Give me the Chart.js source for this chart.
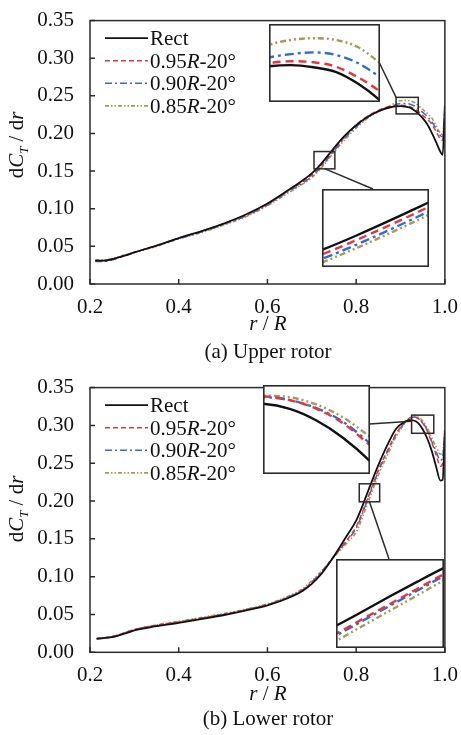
<!DOCTYPE html>
<html>
<head>
<meta charset="utf-8">
<script src="https://cdn.jsdelivr.net/npm/chart.js@4.4.0/dist/chart.umd.min.js"></script>
<style>
html, body { margin: 0; padding: 0; background: #fff; }
#wrap { position: relative; width: 461px; height: 735px; overflow: hidden; background: #fff; }
canvas { position: absolute; }
.inset { background: #fff; }
</style>
</head>
<body>
<div id="wrap">
  <canvas id="upperChart" width="461" height="367" style="left:0;top:0"></canvas>
  <canvas id="lowerChart" width="461" height="368" style="left:0;top:367px"></canvas>
  <canvas id="upperInset1" class="inset" width="111" height="78" style="left:269px;top:24px"></canvas>
  <canvas id="upperInset2" class="inset" width="107" height="78" style="left:322px;top:189px"></canvas>
  <canvas id="lowerInset1" class="inset" width="107" height="89" style="left:263px;top:385px"></canvas>
  <canvas id="lowerInset2" class="inset" width="108" height="89" style="left:336px;top:559px"></canvas>
</div>
<script>
// Data
const seriesNames = ['Rect', '0.95R-20°', '0.90R-20°', '0.85R-20°'];
const xTicks = [0.2, 0.4, 0.6, 0.8, 1.0];
const yTicks = [0, 0.05, 0.10, 0.15, 0.20, 0.25, 0.30, 0.35];

// (a) Upper rotor
const upperR = [0.212, 0.23, 0.25, 0.28, 0.30, 0.35, 0.40, 0.45, 0.50, 0.55, 0.60, 0.65, 0.68, 0.70, 0.71, 0.72, 0.73, 0.74, 0.75, 0.77, 0.80, 0.83, 0.86, 0.88, 0.89, 0.90, 0.91, 0.92, 0.93, 0.94, 0.95, 0.96, 0.97, 0.98, 0.99, 0.995, 1.0];
const upperRect = [0.031, 0.031, 0.033, 0.038, 0.042, 0.051, 0.061, 0.070, 0.080, 0.092, 0.107, 0.126, 0.138, 0.147, 0.1525, 0.159, 0.166, 0.1733, 0.1806, 0.1945, 0.211, 0.2235, 0.232, 0.2352, 0.2361, 0.2364, 0.2358, 0.2345, 0.2312, 0.2265, 0.2205, 0.2125, 0.2015, 0.189, 0.1755, 0.1715, 0.237];
const upper95 = [0.031, 0.031, 0.033, 0.038, 0.042, 0.051, 0.061, 0.070, 0.080, 0.091, 0.106, 0.125, 0.136, 0.145, 0.1505, 0.157, 0.164, 0.1713, 0.1786, 0.193, 0.2115, 0.2245, 0.233, 0.2362, 0.237, 0.2375, 0.2372, 0.236, 0.233, 0.229, 0.224, 0.219, 0.213, 0.203, 0.1925, 0.191, 0.220];
const upper90 = [0.030, 0.030, 0.032, 0.038, 0.042, 0.051, 0.060, 0.069, 0.079, 0.090, 0.105, 0.124, 0.134, 0.143, 0.1485, 0.155, 0.162, 0.1693, 0.1766, 0.191, 0.209, 0.223, 0.2315, 0.236, 0.2385, 0.2395, 0.240, 0.2393, 0.237, 0.233, 0.228, 0.223, 0.216, 0.207, 0.197, 0.196, 0.226];
const upper85 = [0.032, 0.032, 0.034, 0.039, 0.042, 0.050, 0.060, 0.068, 0.078, 0.089, 0.104, 0.122, 0.133, 0.1415, 0.147, 0.1535, 0.1605, 0.1678, 0.175, 0.189, 0.207, 0.222, 0.232, 0.238, 0.242, 0.2435, 0.244, 0.2435, 0.2415, 0.237, 0.232, 0.227, 0.221, 0.211, 0.200, 0.199, 0.232];

// (b) Lower rotor
const lowerR = [0.215, 0.25, 0.28, 0.30, 0.35, 0.40, 0.45, 0.50, 0.55, 0.60, 0.65, 0.68, 0.70, 0.72, 0.75, 0.78, 0.80, 0.81, 0.82, 0.83, 0.84, 0.85, 0.87, 0.89, 0.91, 0.92, 0.93, 0.94, 0.95, 0.96, 0.97, 0.98, 0.99, 0.995, 1.0];
const lowerRect = [0.018, 0.020, 0.025, 0.029, 0.0345, 0.039, 0.044, 0.049, 0.055, 0.062, 0.0725, 0.0815, 0.0905, 0.1025, 0.127, 0.155, 0.174, 0.1875, 0.2025, 0.218, 0.233, 0.2475, 0.2735, 0.2955, 0.305, 0.307, 0.3065, 0.303, 0.295, 0.283, 0.267, 0.246, 0.227, 0.228, 0.294];
const lower95 = [0.018, 0.021, 0.026, 0.030, 0.036, 0.040, 0.045, 0.050, 0.056, 0.063, 0.0735, 0.0825, 0.092, 0.104, 0.127, 0.149, 0.166, 0.1792, 0.1947, 0.2101, 0.2256, 0.241, 0.266, 0.289, 0.3045, 0.3095, 0.3115, 0.309, 0.303, 0.293, 0.278, 0.262, 0.246, 0.250, 0.285];
const lower90 = [0.018, 0.020, 0.026, 0.030, 0.035, 0.040, 0.045, 0.050, 0.056, 0.063, 0.074, 0.083, 0.093, 0.105, 0.127, 0.148, 0.164, 0.1773, 0.1928, 0.2083, 0.2237, 0.2392, 0.2645, 0.288, 0.304, 0.309, 0.311, 0.309, 0.3035, 0.294, 0.2795, 0.266, 0.254, 0.258, 0.288];
const lower85 = [0.018, 0.021, 0.026, 0.030, 0.036, 0.041, 0.046, 0.051, 0.057, 0.064, 0.075, 0.0845, 0.0945, 0.106, 0.126, 0.145, 0.159, 0.1718, 0.1875, 0.2032, 0.2188, 0.2345, 0.260, 0.285, 0.303, 0.309, 0.312, 0.311, 0.306, 0.297, 0.284, 0.272, 0.262, 0.265, 0.292];

// zoom windows [xmin, xmax, ymin, ymax]
const upperMarks = [[0.89, 0.94, 0.226, 0.248], [0.705, 0.752, 0.153, 0.176]];
const upperInsetRanges = [[0.89, 0.94, 0.226, 0.248], [0.71, 0.74, 0.145, 0.1791]];
const lowerMarks = [[0.925, 0.975, 0.2896, 0.3136], [0.807, 0.853, 0.199, 0.2228]];
const lowerInsetRanges = [[0.93, 0.97, 0.2582, 0.3194], [0.81, 0.85, 0.1644, 0.2567]];

// Styles
const SERIF = "'Liberation Serif', 'Times New Roman', serif";
const FS = 21;
const seriesColors = ['#111111', '#e8343c', '#2f6fc8', '#a8985a'];
const mainWidths = [1.8, 1.5, 1.5, 1.6];
const mainDash = [[], [5, 3], [7, 3, 2, 3], [4, 2, 1.5, 2, 1.5, 2]];
const insetWidths = [2.4, 2.4, 2.4, 2.4];
const insetDash = [[], [8, 5], [9, 4, 3, 4], [6, 3, 2, 3, 2, 3]];

function fontFor(p, size) {
    return (p.i ? 'italic ' : '') + (p.sub ? Math.round(size * 0.62) : size) + 'px ' + SERIF;
}

// draw text made of normal / italic / subscript pieces
function drawRich(c, parts, x, y, size, align) {
    let w = 0;
    parts.forEach(p => { c.font = fontFor(p, size); w += c.measureText(p.t).width; });
    let cx = align === 'center' ? x - w / 2 : x;
    c.textAlign = 'left';
    c.textBaseline = 'alphabetic';
    parts.forEach(p => {
        c.font = fontFor(p, size);
        c.fillText(p.t, cx, y + (p.sub ? size * 0.25 : 0));
        cx += c.measureText(p.t).width;
    });
}

function nameParts(name) {
    const m = name.match(/^([\d.]+)R(.*)$/);
    if (!m) return [{ t: name }];
    return [{ t: m[1] }, { t: 'R', i: true }, { t: m[2] }];
}

function makeDeco(d) {
    return {
        id: 'deco',
        afterDraw(chart) {
            const c = chart.ctx, a = chart.chartArea;
            const xs = chart.scales.x, ys = chart.scales.y;
            c.save();
            c.strokeStyle = '#2b2b2b';
            c.lineWidth = 1.5;
            c.strokeRect(a.left, a.top, a.right - a.left, a.bottom - a.top);

            // inward tick marks
            c.beginPath();
            yTicks.forEach(v => { const py = ys.getPixelForValue(v); c.moveTo(a.left, py); c.lineTo(a.left + 5, py); });
            xTicks.forEach(v => { const px = xs.getPixelForValue(v); c.moveTo(px, a.bottom); c.lineTo(px, a.bottom - 5); });
            c.stroke();

            // zoom boxes and connector lines
            d.marks.forEach((m, i) => {
                const x0 = xs.getPixelForValue(m[0]), x1 = xs.getPixelForValue(m[1]);
                const y0 = ys.getPixelForValue(m[2]), y1 = ys.getPixelForValue(m[3]);
                c.strokeRect(x0, y1, x1 - x0, y0 - y1);
                const L = d.links[i];
                c.beginPath();
                c.moveTo(L.px, L.py - d.panelTop);
                c.lineTo(xs.getPixelForValue(L.x), ys.getPixelForValue(L.y));
                c.stroke();
            });

            // legend
            chart.data.datasets.forEach((ds, i) => {
                const ly = a.top + 17.5 + i * 22.6;
                c.strokeStyle = ds.borderColor;
                c.lineWidth = ds.borderWidth;
                c.setLineDash(ds.borderDash);
                c.beginPath();
                c.moveTo(105, ly);
                c.lineTo(148, ly);
                c.stroke();
                c.setLineDash([]);
                c.fillStyle = '#111';
                drawRich(c, nameParts(ds.label), 150, ly + 6.8, FS, 'left');
            });

            // axis titles and caption
            c.fillStyle = '#111';
            drawRich(c, [{ t: 'r', i: true }, { t: ' / ' }, { t: 'R', i: true }], 268, d.xTitleY, FS, 'center');
            drawRich(c, [{ t: d.caption }], 268, d.captionY, FS, 'center');
            c.save();
            c.translate(23, d.yTitleY);
            c.rotate(-Math.PI / 2);
            drawRich(c, [{ t: 'd' }, { t: 'C', i: true }, { t: 'T', i: true, sub: true }, { t: ' / d' }, { t: 'r', i: true }], 0, 0, FS, 'center');
            c.restore();
            c.restore();
        }
    };
}

function makeDatasets(r, values, widths, dashes) {
    return values.map((v, i) => ({
        label: seriesNames[i],
        data: r.map((x, k) => ({ x: x, y: v[k] })),
        borderColor: seriesColors[i],
        borderWidth: widths[i],
        borderDash: dashes[i],
        pointRadius: 0,
        fill: false,
        cubicInterpolationMode: 'monotone'
    }));
}

function buildMain(canvasId, r, values, d) {
    const ctx = document.getElementById(canvasId).getContext('2d');
    return new Chart(ctx, {
        type: 'line',
        data: { datasets: makeDatasets(r, values, mainWidths, mainDash) },
        options: {
            responsive: false,
            animation: false,
            layout: { padding: { top: d.top, right: 14.5, left: 0, bottom: 0 } },
            plugins: { legend: { display: false }, tooltip: { enabled: false } },
            scales: {
                x: {
                    type: 'linear', min: 0.2, max: 1.0,
                    grid: { display: false }, border: { display: false },
                    afterBuildTicks: s => { s.ticks = xTicks.map(v => ({ value: v })); },
                    afterFit: s => { s.height = d.h - d.bottom; },
                    ticks: {
                        font: { family: SERIF, size: FS }, color: '#111', padding: 3,
                        maxRotation: 0, autoSkip: false,
                        callback: v => Number(v).toFixed(1)
                    }
                },
                y: {
                    type: 'linear', min: 0, max: 0.35,
                    grid: { display: false }, border: { display: false },
                    afterBuildTicks: s => { s.ticks = yTicks.map(v => ({ value: v })); },
                    afterFit: s => { s.width = 90; },
                    ticks: {
                        font: { family: SERIF, size: FS }, color: '#111', padding: 8,
                        autoSkip: false,
                        callback: v => Number(v).toFixed(2)
                    }
                }
            }
        },
        plugins: [makeDeco(d)]
    });
}

const insetFrame = {
    id: 'insetFrame',
    afterDraw(chart) {
        const c = chart.ctx;
        c.save();
        c.strokeStyle = '#2b2b2b';
        c.lineWidth = 1.6;
        c.strokeRect(0.8, 0.8, chart.width - 1.6, chart.height - 1.6);
        c.restore();
    }
};

function buildInset(canvasId, r, values, range) {
    const ctx = document.getElementById(canvasId).getContext('2d');
    return new Chart(ctx, {
        type: 'line',
        data: { datasets: makeDatasets(r, values, insetWidths, insetDash) },
        options: {
            responsive: false,
            animation: false,
            layout: { padding: 0 },
            plugins: { legend: { display: false }, tooltip: { enabled: false } },
            scales: {
                x: { type: 'linear', display: false, min: range[0], max: range[1] },
                y: { type: 'linear', display: false, min: range[2], max: range[3] }
            }
        },
        plugins: [insetFrame]
    });
}

document.addEventListener('DOMContentLoaded', function() {
    const upperValues = [upperRect, upper95, upper90, upper85];
    const lowerValues = [lowerRect, lower95, lower90, lower85];

    buildMain('upperChart', upperR, upperValues, {
        top: 13.3, bottom: 284, h: 367, panelTop: 0,
        xTitleY: 330, captionY: 358, yTitleY: 145, caption: '(a) Upper rotor',
        marks: upperMarks,
        links: [{ px: 379, py: 62, x: 0.89, y: 0.248 }, { px: 373, py: 189, x: 0.73, y: 0.153 }]
    });
    buildMain('lowerChart', lowerR, lowerValues, {
        top: 14.7, bottom: 285.3, h: 368, panelTop: 367,
        xTitleY: 333, captionY: 358, yTitleY: 142, caption: '(b) Lower rotor',
        marks: lowerMarks,
        links: [{ px: 369.5, py: 424, x: 0.925, y: 0.3055 }, { px: 389, py: 559, x: 0.83, y: 0.199 }]
    });

    buildInset('upperInset1', upperR, upperValues, upperInsetRanges[0]);
    buildInset('upperInset2', upperR, upperValues, upperInsetRanges[1]);
    buildInset('lowerInset1', lowerR, lowerValues, lowerInsetRanges[0]);
    buildInset('lowerInset2', lowerR, lowerValues, lowerInsetRanges[1]);
});
</script>
</body>
</html>
